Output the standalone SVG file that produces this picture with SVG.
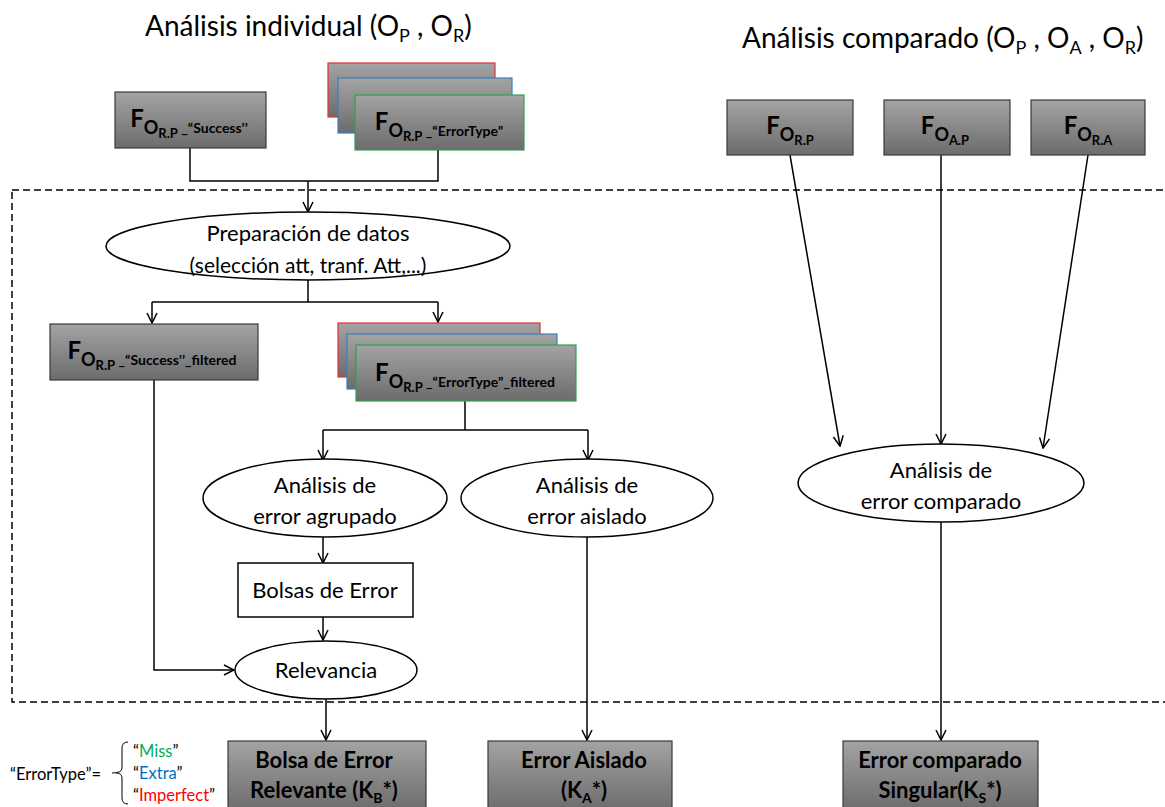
<svg xmlns="http://www.w3.org/2000/svg" width="1165" height="807" viewBox="0 0 1165 807">
  <defs>
    <linearGradient id="grey" x1="0" y1="0" x2="0" y2="1">
      <stop offset="0" stop-color="#a3a3a3"/>
      <stop offset="1" stop-color="#6c6c6c"/>
    </linearGradient>
    <marker id="arr" viewBox="0 0 12 12" refX="11" refY="6" markerWidth="12" markerHeight="12" markerUnits="userSpaceOnUse" orient="auto">
      <path d="M1,1 L11,6 L1,11" fill="none" stroke="#000" stroke-width="1.5"/>
    </marker>
  </defs>
  <style>
    text { font-family: Lato, "Liberation Sans", sans-serif; fill: #000; }
    .title { font-size: 28px; }
    .sub { font-size: 18px; }
    .elt { font-size: 22px; text-anchor: middle; }
    .box { fill: url(#grey); stroke: #3a3a3a; stroke-width: 1.2; }
    .box.red { stroke: #e03030; }
    .box.blue { stroke: #3a7fc0; }
    .box.green { stroke: #2ea050; }
    .plain { fill: #fff; stroke: #000; stroke-width: 1.5; }
    .ell { fill: #fff; stroke: #000; stroke-width: 1.5; }
    .lbl { font-weight: bold; text-anchor: middle; }
    .f { font-size: 24px; }
    .o { font-size: 18px; }
    .rp { font-size: 13px; }
    .q { font-size: 14px; }
    .res { font-size: 22px; font-weight: bold; text-anchor: middle; }
    .res .s { font-size: 14px; }
    .conn path { fill: none; stroke: #000; stroke-width: 1.5; }
    .legend { font-size: 16.5px; }
  </style>

  <!-- headings -->
  <text class="title" x="145" y="36">Análisis individual (O<tspan class="sub" dy="6">P</tspan><tspan dy="-6"> , O</tspan><tspan class="sub" dy="6">R</tspan><tspan dy="-6">)</tspan></text>
  <text class="title" x="742" y="48">Análisis comparado (O<tspan class="sub" dy="6">P</tspan><tspan dy="-6"> , O</tspan><tspan class="sub" dy="6">A</tspan><tspan dy="-6"> , O</tspan><tspan class="sub" dy="6">R</tspan><tspan dy="-6">)</tspan></text>

  <!-- processing frame -->
  <rect x="12" y="190" width="1170" height="512" fill="none" stroke="#000" stroke-width="1.5" stroke-dasharray="7 4"/>

  <!-- connectors -->
  <g class="conn">
    <path d="M190,148 V181 H438 V150"/>
    <path d="M308,181 V212" marker-end="url(#arr)"/>
    <path d="M308,280 V302 M152,302 H438"/>
    <path d="M152,302 V323" marker-end="url(#arr)"/>
    <path d="M438,302 V322" marker-end="url(#arr)"/>
    <path d="M465,401 V430 M323,430 H588"/>
    <path d="M323,430 V460" marker-end="url(#arr)"/>
    <path d="M588,430 V460" marker-end="url(#arr)"/>
    <path d="M323,537 V563" marker-end="url(#arr)"/>
    <path d="M323,617 V640" marker-end="url(#arr)"/>
    <path d="M154,380 V670 H234" marker-end="url(#arr)"/>
    <path d="M326,699 V740" marker-end="url(#arr)"/>
    <path d="M587,537 V740" marker-end="url(#arr)"/>
    <path d="M790,155 L840,446" marker-end="url(#arr)"/>
    <path d="M941,155 V444" marker-end="url(#arr)"/>
    <path d="M1088,155 L1043,448" marker-end="url(#arr)"/>
    <path d="M941,522 V740" marker-end="url(#arr)"/>
  </g>

  <!-- input: success subset -->
  <g id="in-success">
    <rect class="box" x="115" y="92" width="151" height="56"/>
    <text class="lbl" x="189" y="127"><tspan class="f">F</tspan><tspan class="o" dy="7">O</tspan><tspan class="rp" dy="4">R.P</tspan><tspan class="q" dy="-5"> _“Success’’</tspan></text>
  </g>

  <!-- input: error-type subsets -->
  <g id="in-errortype">
    <rect class="box red" x="328" y="63" width="167" height="54"/>
    <rect class="box blue" x="338" y="78" width="174" height="55"/>
    <rect class="box green" x="355" y="95" width="169" height="55"/>
    <text class="lbl" x="439" y="130"><tspan class="f">F</tspan><tspan class="o" dy="7">O</tspan><tspan class="rp" dy="4">R.P</tspan><tspan class="q" dy="-5"> _“ErrorType”</tspan></text>
  </g>

  <!-- comparison inputs -->
  <g id="in-orp">
    <rect class="box" x="727" y="100" width="126" height="55"/>
    <text class="lbl" x="790" y="134"><tspan class="f">F</tspan><tspan class="o" dy="7">O</tspan><tspan class="rp" dy="4">R.P</tspan></text>
  </g>
  <g id="in-oap">
    <rect class="box" x="884" y="100" width="126" height="55"/>
    <text class="lbl" x="945" y="134"><tspan class="f">F</tspan><tspan class="o" dy="7">O</tspan><tspan class="rp" dy="4">A.P</tspan></text>
  </g>
  <g id="in-ora">
    <rect class="box" x="1031" y="100" width="114" height="55"/>
    <text class="lbl" x="1088" y="134"><tspan class="f">F</tspan><tspan class="o" dy="7">O</tspan><tspan class="rp" dy="4">R.A</tspan></text>
  </g>

  <!-- data preparation -->
  <g id="prep">
    <ellipse class="ell" cx="308" cy="246" rx="202" ry="34"/>
    <text class="elt" x="308" y="241">Preparación de datos</text>
    <text class="elt" x="308" y="273" style="font-size:21px">(selección att, tranf. Att,...)</text>
  </g>

  <!-- filtered subsets -->
  <g id="f-success">
    <rect class="box" x="50" y="324" width="208" height="56"/>
    <text class="lbl" x="152" y="359"><tspan class="f">F</tspan><tspan class="o" dy="7">O</tspan><tspan class="rp" dy="4">R.P</tspan><tspan class="q" dy="-5"> _“Success’’_filtered</tspan></text>
  </g>
  <g id="f-errortype">
    <rect class="box red" x="338" y="323" width="202" height="54"/>
    <rect class="box blue" x="347" y="334" width="210" height="55"/>
    <rect class="box green" x="356" y="345" width="220" height="56"/>
    <text class="lbl" x="465" y="381"><tspan class="f">F</tspan><tspan class="o" dy="7">O</tspan><tspan class="rp" dy="4">R.P</tspan><tspan class="q" dy="-5"> _“ErrorType”_filtered</tspan></text>
  </g>

  <!-- analyses -->
  <g id="grouped">
    <ellipse class="ell" cx="325" cy="498" rx="122" ry="39"/>
    <text class="elt" x="325" y="493">Análisis de</text>
    <text class="elt" x="325" y="524">error agrupado</text>
  </g>
  <g id="isolated">
    <ellipse class="ell" cx="587" cy="498" rx="126" ry="39"/>
    <text class="elt" x="587" y="493">Análisis de</text>
    <text class="elt" x="587" y="524">error aislado</text>
  </g>
  <g id="compared">
    <ellipse class="ell" cx="941" cy="483" rx="143" ry="39"/>
    <text class="elt" x="941" y="478">Análisis de</text>
    <text class="elt" x="941" y="509">error comparado</text>
  </g>
  <g id="bags">
    <rect class="plain" x="238" y="563" width="175" height="54"/>
    <text class="elt" x="325" y="598">Bolsas de Error</text>
  </g>
  <g id="relevance">
    <ellipse class="ell" cx="326" cy="670" rx="91" ry="29"/>
    <text class="elt" x="326" y="678">Relevancia</text>
  </g>

  <!-- results -->
  <g id="kb">
    <rect class="box" x="228" y="741" width="198" height="70"/>
    <text class="res" x="324" y="768">Bolsa de Error</text>
    <text class="res" x="324" y="798">Relevante (K<tspan class="s" dy="5">B</tspan><tspan dy="-5">*)</tspan></text>
  </g>
  <g id="ka">
    <rect class="box" x="488" y="741" width="184" height="70"/>
    <text class="res" x="584" y="768">Error Aislado</text>
    <text class="res" x="584" y="798">(K<tspan class="s" dy="5">A</tspan><tspan dy="-5">*)</tspan></text>
  </g>
  <g id="ks">
    <rect class="box" x="843" y="741" width="195" height="70"/>
    <text class="res" x="940" y="768">Error comparado</text>
    <text class="res" x="940" y="798">Singular(K<tspan class="s" dy="5">S</tspan><tspan dy="-5">*)</tspan></text>
  </g>

  <!-- error type legend -->
  <g id="legend">
    <text class="legend" x="10" y="780">“ErrorType”=</text>
    <path d="M128,742 Q122,742 122,748 V768 Q122,773 112,773 M116,773 Q122,773 122,778 V798 Q122,804 128,804" fill="none" stroke="#000" stroke-width="1"/>
    <text class="legend" x="133" y="757">“<tspan fill="#00b050">Miss</tspan>”</text>
    <text class="legend" x="133" y="779">“<tspan fill="#0070c0">Extra</tspan>”</text>
    <text class="legend" x="133" y="801">“<tspan fill="#ff0000">Imperfect</tspan>”</text>
  </g>
</svg>
